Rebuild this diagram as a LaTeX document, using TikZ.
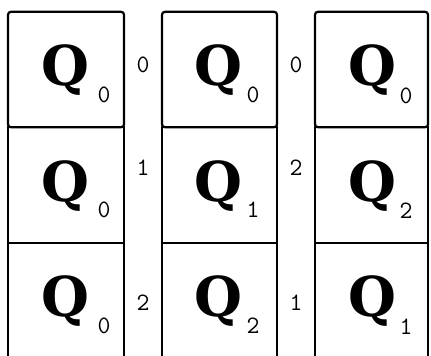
\documentclass[tikz,border=0pt]{standalone}
\usepackage{fontspec}
\newfontfamily\qfont{DejaVu Serif}
\usetikzlibrary{positioning}

\begin{document}
\begin{tikzpicture}[x=1pt,y=-1pt,
  cell/.style={draw,line width=2.2pt,minimum height=115.5,inner sep=0pt},
  letter/.style={font=\qfont\bfseries\fontsize{55}{55}\selectfont,inner sep=0pt},
  index/.style={font=\ttfamily\fontsize{25}{25}\selectfont,inner sep=0pt},
  offset/.style={font=\ttfamily\fontsize{25}{25}\selectfont,inner sep=0pt}
]
\useasboundingbox (0,0) rectangle (431,356);

% Three columns of three cells; only the top row has rounded corners.
\foreach \row/\y/\a/\b/\c/\ly/\rc in
  {1/69.5/0/0/0/65/3pt,2/185/0/1/2/168/0pt,3/300.5/0/2/1/303/0pt}{
  \node[cell,rounded corners=\rc,minimum width=116] (cellA\row) at (66,\y) {};
  \node[cell,rounded corners=\rc,minimum width=115] (cellB\row) at (219.5,\y) {};
  \node[cell,rounded corners=\rc,minimum width=113] (cellC\row) at (371.5,\y) {};
  \node[letter] (qA\row) at (65,\y+1) {Q};
  \node[letter] (qB\row) at (218.5,\y+1) {Q};
  \node[letter] (qC\row) at (372,\y+1) {Q};
  \node[index] (iA\row) at (104,\y+25) {\a};
  \node[index] (iB\row) at (253,\y+25) {\b};
  \node[index] (iC\row) at (406,\y+26) {\c};
  \node[offset] (sAB\row) at (143,\ly) {\b};
  \node[offset] (sBC\row) at (296,\ly) {\c};
}
\end{tikzpicture}
\end{document}
